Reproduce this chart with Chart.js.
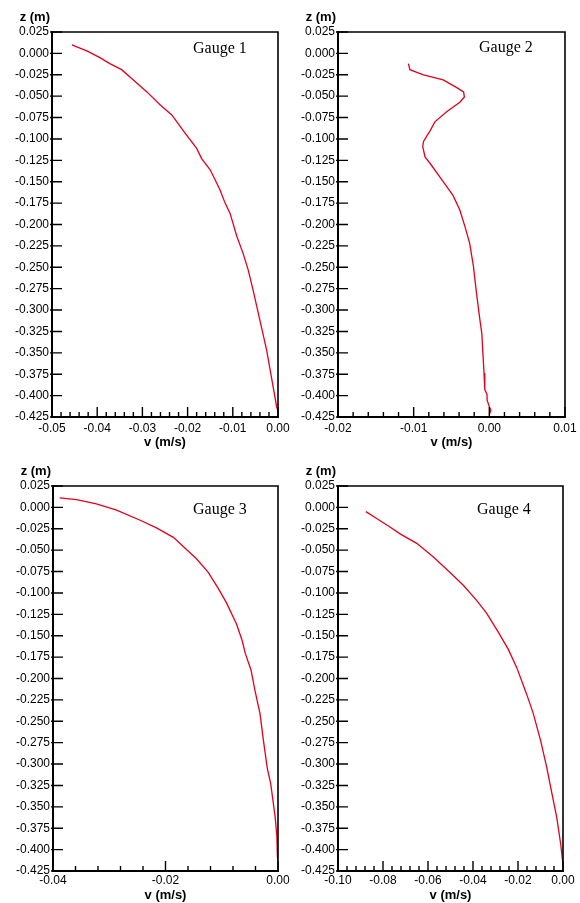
<!DOCTYPE html>
<html>
<head>
<meta charset="utf-8">
<script src="https://cdn.jsdelivr.net/npm/chart.js@4.4.0/dist/chart.umd.min.js"></script>
<style>
  body { margin: 0; background: #fff; width: 580px; height: 903px; position: relative; overflow: hidden; }
  .panel { position: absolute; }
</style>
</head>
<body>
<div class="panel" style="left:0px;top:0px"><canvas id="g1" width="290" height="450"></canvas></div>
<div class="panel" style="left:290px;top:0px"><canvas id="g2" width="290" height="450"></canvas></div>
<div class="panel" style="left:0px;top:450px"><canvas id="g3" width="290" height="453"></canvas></div>
<div class="panel" style="left:290px;top:450px"><canvas id="g4" width="290" height="453"></canvas></div>
<script>
// datos (v en m/s, z en m)
const gauge1V = [-0.0456, -0.0423, -0.0394, -0.0372, -0.0346, -0.0320, -0.0290, -0.0261, -0.0235, -0.0206, -0.0180, -0.0169, -0.0150, -0.0137, -0.0128, -0.0117, -0.0106, -0.0091, -0.0077, -0.0066, -0.0055, -0.0046, -0.0025, -0.0003, 0.0000];
const gauge1Z = [0.010, 0.003, -0.005, -0.012, -0.019, -0.031, -0.045, -0.060, -0.072, -0.093, -0.111, -0.123, -0.136, -0.150, -0.160, -0.175, -0.187, -0.214, -0.234, -0.253, -0.277, -0.298, -0.347, -0.413, -0.418];

const gauge2V = [-0.0107, -0.0105, -0.0087, -0.0061, -0.0043, -0.0034, -0.0033, -0.0039, -0.0056, -0.0072, -0.0078, -0.0087, -0.0088, -0.0085, -0.0078, -0.0061, -0.0048, -0.0039, -0.0032, -0.0026, -0.0021, -0.0017, -0.0013, -0.0010, -0.0007, -0.0006, -0.0003, -0.0003, 0.0000, 0.0002, 0.0000];
const gauge2Z = [-0.012, -0.019, -0.025, -0.031, -0.040, -0.045, -0.051, -0.057, -0.068, -0.080, -0.090, -0.103, -0.109, -0.121, -0.129, -0.150, -0.166, -0.183, -0.203, -0.222, -0.249, -0.280, -0.308, -0.327, -0.374, -0.393, -0.399, -0.405, -0.413, -0.417, -0.422];

const gauge3V = [-0.0388, -0.0358, -0.0323, -0.0288, -0.0245, -0.0216, -0.0186, -0.0145, -0.0124, -0.0106, -0.0092, -0.0074, -0.0064, -0.0058, -0.0048, -0.0041, -0.0032, -0.0026, -0.0019, -0.0013, -0.0005, -0.0002, -0.0001, 0.0000];
const gauge3Z = [0.011, 0.009, 0.004, -0.003, -0.015, -0.024, -0.035, -0.060, -0.076, -0.095, -0.111, -0.136, -0.155, -0.171, -0.190, -0.214, -0.241, -0.272, -0.305, -0.323, -0.362, -0.385, -0.409, -0.413];

const gauge4V = [-0.0876, -0.0828, -0.0769, -0.0724, -0.0650, -0.0576, -0.0502, -0.0443, -0.0383, -0.0339, -0.0287, -0.0243, -0.0206, -0.0162, -0.0132, -0.0100, -0.0073, -0.0058, -0.0028, -0.0010, -0.0001];
const gauge4Z = [-0.005, -0.013, -0.023, -0.031, -0.042, -0.058, -0.076, -0.091, -0.109, -0.124, -0.146, -0.166, -0.187, -0.218, -0.241, -0.272, -0.303, -0.323, -0.362, -0.394, -0.415];

// ejes
const nombres = ['Gauge 1', 'Gauge 2', 'Gauge 3', 'Gauge 4'];
const xMin = [-0.05, -0.02, -0.04, -0.10];
const xMax = [0.00, 0.01, 0.00, 0.00];
const xPaso = [0.01, 0.01, 0.02, 0.02];
const zMin = -0.425;
const zMax = 0.025;
const zPaso = 0.025;

const valores = [[gauge1V, gauge1Z], [gauge2V, gauge2Z], [gauge3V, gauge3Z], [gauge4V, gauge4Z]];

// posicion del area de dibujo dentro de cada canvas (izq, arriba, der, abajo) y del texto Gauge
const cajas = [
  { l: 52, t: 32, r: 278, b: 417, gx: 193, gy: 49, tp: 4 },
  { l: 48, t: 32, r: 275, b: 417, gx: 189, gy: 48, tp: 4 },
  { l: 53, t: 36, r: 278, b: 421, gx: 193, gy: 60, tp: 2 },
  { l: 48, t: 36, r: 273, b: 421, gx: 187, gy: 60, tp: 2 }
];

const limpio = (v, d) => (Math.abs(v) < 1e-9 ? 0 : v).toFixed(d);

// marco, marcas hacia dentro y textos
const marco = {
  id: 'marco',
  afterDraw(chart, args, opts) {
    const { ctx, chartArea: a, scales } = chart;
    const x = scales.x, y = scales.y;
    ctx.save();
    ctx.strokeStyle = '#000';
    ctx.lineWidth = 1.6;
    ctx.beginPath();
    ctx.moveTo(a.left, a.top);
    ctx.lineTo(a.right, a.top);
    ctx.lineTo(a.right, a.bottom);
    ctx.stroke();

    ctx.lineWidth = 1.4;
    ctx.beginPath();
    const xt = x.ticks.map(t => t.value);
    xt.forEach((v, i) => {
      const px = x.getPixelForValue(v);
      ctx.moveTo(px, a.bottom);
      ctx.lineTo(px, a.bottom - 10);
      if (i < xt.length - 1) {
        for (let k = 1; k < 5; k++) {
          const pm = x.getPixelForValue(v + (xt[i + 1] - v) * k / 5);
          ctx.moveTo(pm, a.bottom);
          ctx.lineTo(pm, a.bottom - 5);
        }
      }
    });
    y.ticks.forEach(t => {
      const py = y.getPixelForValue(t.value);
      ctx.moveTo(a.left - 2, py);
      ctx.lineTo(a.left + 10, py);
    });
    ctx.stroke();

    ctx.fillStyle = '#000';
    ctx.font = 'bold 13px "Liberation Sans", Arial, sans-serif';
    ctx.textAlign = 'right';
    ctx.textBaseline = 'middle';
    ctx.fillText('z (m)', a.left - 2, a.top - 15);
    ctx.font = '16px "Liberation Serif", "Times New Roman", serif';
    ctx.textAlign = 'left';
    ctx.fillText(opts.nombre, opts.gx, opts.gy);
    ctx.restore();
  }
};

const dibujar = (i) => {
  const c = cajas[i];
  const canvas = document.getElementById('g' + (i + 1));
  const alto = canvas.height;
  const [vs, zs] = valores[i];
  const puntos = vs.map((v, k) => ({ x: v, y: zs[k] }));

  new Chart(canvas, {
    type: 'scatter',
    data: {
      datasets: [{
        data: puntos,
        showLine: true,
        borderColor: '#e3001b',
        borderWidth: 1.3,
        pointRadius: 0,
        tension: 0,
        fill: false
      }]
    },
    options: {
      responsive: false,
      animation: false,
      layout: { padding: { left: 0, top: c.t, right: canvas.width - c.r, bottom: 0 } },
      plugins: {
        legend: { display: false },
        tooltip: { enabled: false },
        marco: { nombre: nombres[i], gx: c.gx, gy: c.gy }
      },
      scales: {
        x: {
          type: 'linear',
          min: xMin[i],
          max: xMax[i],
          grid: { display: false, drawTicks: false },
          border: { display: true, color: '#000', width: 2 },
          ticks: {
            stepSize: xPaso[i],
            padding: c.tp,
            color: '#000',
            font: { family: '"Liberation Sans", Arial, sans-serif', size: 12 },
            maxRotation: 0,
            callback: v => limpio(v, 2)
          },
          title: {
            display: true,
            text: 'v (m/s)',
            color: '#000',
            font: { family: '"Liberation Sans", Arial, sans-serif', size: 13, weight: 'bold' },
            padding: { top: 0, bottom: 0 }
          },
          afterFit: s => {
            s.height = alto - c.b;
            s.paddingLeft = 0;
            s.paddingRight = 0;
          }
        },
        y: {
          type: 'linear',
          min: zMin,
          max: zMax,
          grid: { display: false, drawTicks: false },
          border: { display: true, color: '#000', width: 2 },
          ticks: {
            stepSize: zPaso,
            padding: 3,
            color: '#000',
            font: { family: '"Liberation Sans", Arial, sans-serif', size: 12 },
            callback: v => limpio(v, 3)
          },
          afterFit: s => {
            s.width = c.l;
            s.paddingTop = 0;
            s.paddingBottom = 0;
          }
        }
      }
    },
    plugins: [marco]
  });
};

[0, 1, 2, 3].forEach(dibujar);
</script>
</body>
</html>
